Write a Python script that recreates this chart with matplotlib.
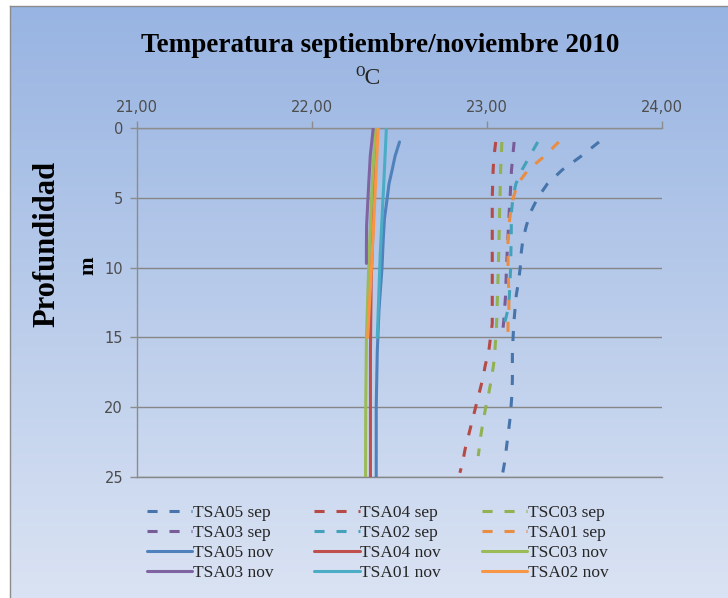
import numpy as np
import matplotlib
matplotlib.use("Agg")
import matplotlib.pyplot as plt
from matplotlib.ticker import FuncFormatter

# ---------------- data ----------------
series_names = ["TSA05 sep", "TSA04 sep", "TSC03 sep", "TSA03 sep", "TSA02 sep", "TSA01 sep",
                "TSA05 nov", "TSA04 nov", "TSC03 nov", "TSA03 nov", "TSA01 nov", "TSA02 nov"]

tsa05_sep_depth = [1, 2, 3, 4, 5, 6, 7, 8, 9, 10, 11, 12, 13, 14, 15, 16, 17, 18, 19, 20, 21, 22, 23, 24, 24.7]
tsa05_sep_temp = [23.64, 23.54, 23.43, 23.345, 23.29, 23.25, 23.225, 23.205, 23.195, 23.19, 23.18, 23.167,
                  23.16, 23.153, 23.149, 23.145, 23.145, 23.145, 23.143, 23.137, 23.13, 23.12, 23.11, 23.10, 23.09]

tsa04_sep_depth = [1, 2, 3, 5, 8, 11, 14, 15, 16, 17, 18, 19, 20, 21, 22, 23, 24, 24.7]
tsa04_sep_temp = [23.05, 23.04, 23.035, 23.03, 23.03, 23.03, 23.03, 23.02, 23.01, 22.99, 22.975, 22.955,
                  22.935, 22.915, 22.895, 22.875, 22.86, 22.845]

tsc03_sep_depth = [1, 3, 6, 9, 12, 14, 15, 16, 17, 18, 19, 20, 21, 22, 23, 23.5]
tsc03_sep_temp = [23.085, 23.078, 23.072, 23.067, 23.06, 23.055, 23.05, 23.045, 23.037, 23.025, 23.01,
                  22.993, 22.978, 22.965, 22.955, 22.95]

tsa03_sep_depth = [1, 3, 4.5, 6, 7.5, 9, 10.5, 12, 13.8, 14.5]
tsa03_sep_temp = [23.155, 23.14, 23.134, 23.127, 23.121, 23.115, 23.11, 23.106, 23.096, 23.09]

tsa02_sep_depth = [1, 2, 3, 4, 5, 6, 8, 10, 12, 13, 14, 14.5]
tsa02_sep_temp = [23.29, 23.245, 23.2, 23.165, 23.148, 23.14, 23.138, 23.135, 23.128, 23.12, 23.10, 23.09]

tsa01_sep_depth = [1, 2, 3, 4, 5, 6, 7, 8, 10, 12, 13, 14, 14.8]
tsa01_sep_temp = [23.41, 23.33, 23.235, 23.175, 23.15, 23.135, 23.125, 23.12, 23.12, 23.125, 23.125, 23.12, 23.12]

tsa05_nov_depth = [1, 2, 3, 4, 5, 6.5, 8, 10, 13, 16, 20, 25]
tsa05_nov_temp = [22.50, 22.475, 22.458, 22.44, 22.43, 22.414, 22.407, 22.40, 22.383, 22.373, 22.367, 22.367]

tsa04_nov_depth = [0, 3, 6.5, 11, 16, 25]
tsa04_nov_temp = [22.373, 22.36, 22.35, 22.338, 22.334, 22.334]

tsc03_nov_depth = [0, 4, 9.5, 15, 20, 25]
tsc03_nov_temp = [22.363, 22.344, 22.325, 22.311, 22.307, 22.306]

tsa03_nov_depth = [0, 2, 4, 5.5, 7, 8.5, 9.7]
tsa03_nov_temp = [22.35, 22.333, 22.324, 22.318, 22.312, 22.311, 22.311]

tsa01_nov_depth = [0, 4, 9, 15]
tsa01_nov_temp = [22.425, 22.41, 22.39, 22.373]

tsa02_nov_depth = [0, 4, 9, 15]
tsa02_nov_temp = [22.378, 22.363, 22.344, 22.318]

x_ticks = [21, 22, 23, 24]
y_ticks = [0, 5, 10, 15, 20, 25]

title = "Temperatura septiembre/noviembre 2010"
x_title = "\u2070C"
y_title = "Profundidad"
y_unit = "m"

# ---------------- styling ----------------
c_blue, c_red, c_green, c_purple, c_aqua, c_orange = "#4F81BD", "#C0504D", "#9BBB59", "#8064A2", "#4BACC6", "#F79646"
d_blue, d_red, d_green, d_purple, d_aqua, d_orange = "#4774AA", "#B64A46", "#91B153", "#775C98", "#44A1BA", "#E98D43"

series = [
    (tsa05_sep_depth, tsa05_sep_temp, d_blue, True),
    (tsa04_sep_depth, tsa04_sep_temp, d_red, True),
    (tsc03_sep_depth, tsc03_sep_temp, d_green, True),
    (tsa03_sep_depth, tsa03_sep_temp, d_purple, True),
    (tsa02_sep_depth, tsa02_sep_temp, d_aqua, True),
    (tsa01_sep_depth, tsa01_sep_temp, d_orange, True),
    (tsa05_nov_depth, tsa05_nov_temp, c_blue, False),
    (tsa04_nov_depth, tsa04_nov_temp, c_red, False),
    (tsc03_nov_depth, tsc03_nov_temp, c_green, False),
    (tsa03_nov_depth, tsa03_nov_temp, c_purple, False),
    (tsa01_nov_depth, tsa01_nov_temp, c_aqua, False),
    (tsa02_nov_depth, tsa02_nov_temp, c_orange, False),
]

W, H = 728, 598
fig = plt.figure(figsize=(W / 100, H / 100), dpi=100)
fig.patch.set_facecolor("white")

# gradient background panel
bg = fig.add_axes([10 / W, 0, 1 - 10 / W, 1 - 6 / H], zorder=-5)
g = np.linspace(0, 1, 256)[:, None, None]
top_c = np.array([0.596, 0.706, 0.886])
bot_c = np.array([0.855, 0.890, 0.953])
img = top_c * (1 - g) + bot_c * g
bg.imshow(img, aspect="auto", extent=[0, 1, 0, 1])
bg.set_xticks([]); bg.set_yticks([])
for s in ["right", "bottom"]:
    bg.spines[s].set_visible(False)
for s in ["left", "top"]:
    bg.spines[s].set_color("#8c8c8c")
    bg.spines[s].set_linewidth(1.0)

ax = fig.add_axes([137 / W, 1 - 477 / H, (662 - 137) / W, (477 - 128) / H])
ax.set_facecolor("none")

handles = []
for (d, t, col, dashed), name in zip(series, series_names):
    if dashed:
        ln, = ax.plot(t, d, color=col, lw=2.2, linestyle=(0, (3.3, 3.9)), label=name,
                      solid_capstyle="butt", zorder=3)
    else:
        ln, = ax.plot(t, d, color=col, lw=2.2, label=name, solid_capstyle="round", zorder=3)
    handles.append(ln)

ax.set_xlim(21, 24)
ax.set_ylim(25, 0)
ax.xaxis.tick_top()
ax.set_xticks(x_ticks)
ax.set_yticks(y_ticks)
ax.xaxis.set_major_formatter(FuncFormatter(lambda v, p: f"{v:.2f}".replace(".", ",")))
ax.yaxis.set_major_formatter(FuncFormatter(lambda v, p: f"{int(v)}"))
ax.tick_params(axis="both", direction="out", length=5, width=1, color="#8c8c8c",
               labelcolor="#4d4d4d", labelsize=10.5)
ax.tick_params(axis="x", pad=4)
ax.tick_params(axis="y", pad=5)
for lab in ax.get_xticklabels() + ax.get_yticklabels():
    lab.set_family("DejaVu Sans")
for s in ["right", "bottom"]:
    ax.spines[s].set_visible(False)
for s in ["top", "left"]:
    ax.spines[s].set_color("#8c8c8c")
    ax.spines[s].set_linewidth(1.0)
ax.yaxis.grid(True, color="#868686", lw=1.0, zorder=1)
ax.set_axisbelow(True)
ax.axhline(25, color="#868686", lw=1.0, zorder=1, clip_on=False)

fig.text(380 / W, 1 - 46 / H, title, ha="center", va="center", fontsize=19.5,
         fontweight="bold", family=["Liberation Serif", "DejaVu Serif"])
fig.text(368 / W, 1 - 78 / H, x_title, ha="center", va="center", fontsize=17,
         family=["Liberation Serif", "DejaVu Serif"], color="#262626")
fig.text(47 / W, 1 - 244 / H, y_title, ha="center", va="center", fontsize=22, rotation=90,
         fontweight="bold", family=["Liberation Serif", "DejaVu Serif"])
fig.text(88 / W, 1 - 266 / H, y_unit, ha="center", va="center", fontsize=16, rotation=90,
         fontweight="bold", family=["Liberation Serif", "DejaVu Serif"])

order = [0, 3, 6, 9, 1, 4, 7, 10, 2, 5, 8, 11]
leg = fig.legend([handles[i] for i in order], [series_names[i] for i in order],
                 ncol=3, loc="upper left", bbox_to_anchor=(147 / W, 1 - 505 / H),
                 frameon=False, borderpad=0, borderaxespad=0, handlelength=2.6,
                 handletextpad=0.05, columnspacing=2.35, labelspacing=0.22,
                 prop={"family": "Liberation Serif", "size": 12.5})
for t in leg.get_texts():
    t.set_color("#262626")

fig.savefig("out.png", dpi=100, facecolor=fig.get_facecolor())
